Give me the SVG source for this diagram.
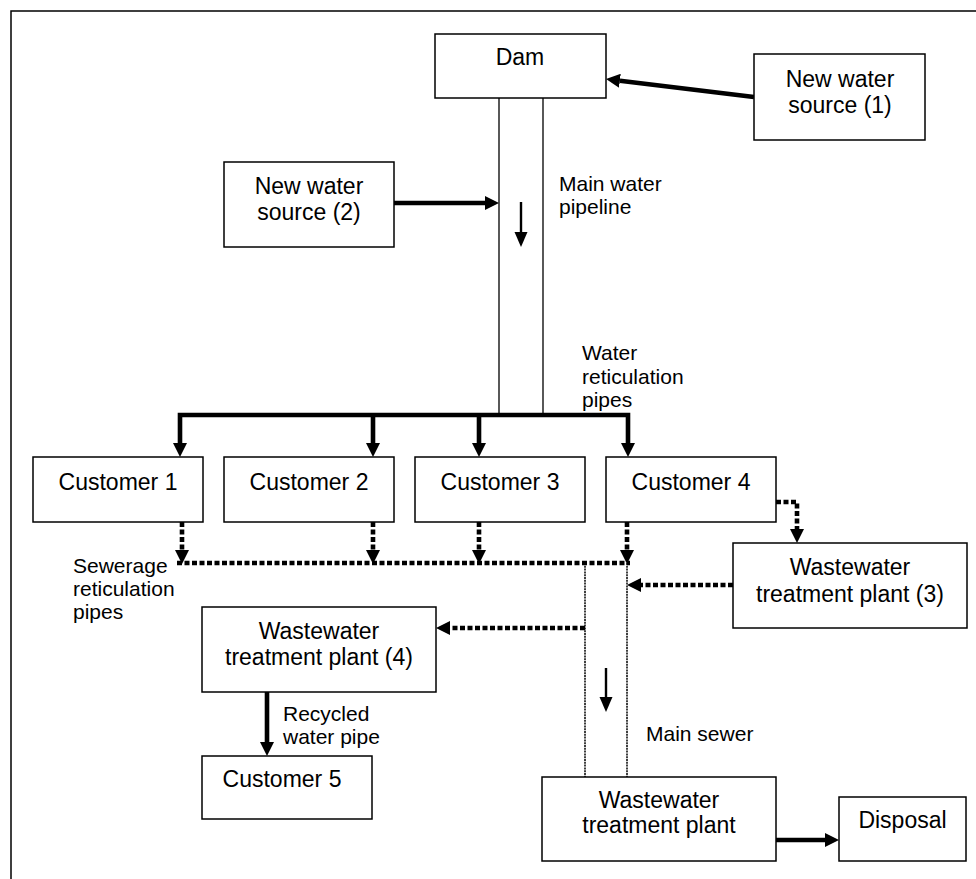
<svg xmlns="http://www.w3.org/2000/svg" width="976" height="879" viewBox="0 0 976 879">
<style>
.box{fill:#fff;stroke:#000;stroke-width:1.5}
.nt{font-family:"Liberation Sans",Arial,sans-serif;font-size:23px;fill:#000;text-anchor:middle}
.lb{font-family:"Liberation Sans",Arial,sans-serif;font-size:21px;fill:#000}
.pipe{fill:none;stroke:#000;stroke-width:1.3}
.thick{fill:none;stroke:#000;stroke-width:4.6;stroke-linejoin:miter}
.dot{fill:none;stroke:#000;stroke-width:4.6;stroke-dasharray:5 2.5}
.fine{fill:none;stroke:#000;stroke-width:1.5;stroke-dasharray:2 0.8}
.small{fill:none;stroke:#000;stroke-width:2.4}
</style>
<defs>
<marker id="ah" viewBox="0 -7 14 14" refX="0" refY="0" markerWidth="14" markerHeight="14" markerUnits="userSpaceOnUse" orient="auto-start-reverse">
<path d="M0,-7 L14,0 L0,7 Z" fill="#000"/>
</marker>
<marker id="ahs" viewBox="0 -7 15 14" refX="0" refY="0" markerWidth="15" markerHeight="14" markerUnits="userSpaceOnUse" orient="auto">
<path d="M0,-6.5 L15,0 L0,6.5 Z" fill="#000"/>
</marker>
</defs>
<rect width="976" height="879" fill="#fff"/>
<g id="frame" fill="none" stroke="#000" stroke-width="1.5">
<path d="M11,879 V11 H976"/>
</g>
<g id="connectors">
<path class="thick" d="M754,97 L619.9,80.7" marker-end="url(#ah)"/>
<path class="thick" d="M394,203 H485" marker-end="url(#ah)"/>
<path class="pipe" d="M499,98 V413 M543,98 V413"/>
<path class="small" d="M521,202 V232" marker-end="url(#ahs)"/>
<path class="thick" d="M180,443 V415 H628 V443" marker-start="url(#ah)" marker-end="url(#ah)"/>
<path class="thick" d="M373,415 V443" marker-end="url(#ah)"/>
<path class="thick" d="M479,415 V443" marker-end="url(#ah)"/>
<path class="dot" d="M182,522 V550" marker-end="url(#ah)"/>
<path class="dot" d="M373,522 V550" marker-end="url(#ah)"/>
<path class="dot" d="M479,522 V550" marker-end="url(#ah)"/>
<path class="dot" d="M627,522 V550" marker-end="url(#ah)"/>
<path class="dot" d="M177,563 H630"/>
<path class="dot" d="M776,502 H797 V529" marker-end="url(#ah)"/>
<path class="fine" d="M585,563 V777 M627,563 V777"/>
<path class="dot" d="M733,585 H641" marker-end="url(#ah)"/>
<path class="dot" d="M585,628 H450" marker-end="url(#ah)"/>
<path class="small" d="M606,668 V697" marker-end="url(#ahs)"/>
<path class="thick" d="M267,692 V742" marker-end="url(#ah)"/>
<path class="thick" d="M776,840 H825" marker-end="url(#ah)"/>
</g>
<g id="dam"><rect class="box" x="435" y="34" width="171" height="64"/><text class="nt" x="520" y="65">Dam</text></g>
<g id="nws1"><rect class="box" x="754" y="54" width="171" height="86"/><text class="nt" x="840" y="87">New water</text><text class="nt" x="840" y="113">source (1)</text></g>
<g id="nws2"><rect class="box" x="224" y="162" width="170" height="85"/><text class="nt" x="309" y="194">New water</text><text class="nt" x="309" y="220">source (2)</text></g>
<g id="c1"><rect class="box" x="33" y="457" width="170" height="65"/><text class="nt" x="118" y="490">Customer 1</text></g>
<g id="c2"><rect class="box" x="224" y="457" width="170" height="65"/><text class="nt" x="309" y="490">Customer 2</text></g>
<g id="c3"><rect class="box" x="415" y="457" width="170" height="65"/><text class="nt" x="500" y="490">Customer 3</text></g>
<g id="c4"><rect class="box" x="606" y="457" width="170" height="65"/><text class="nt" x="691" y="490">Customer 4</text></g>
<g id="wwtp3"><rect class="box" x="733" y="543" width="234" height="85"/><text class="nt" x="850" y="575">Wastewater</text><text class="nt" x="850" y="602">treatment plant (3)</text></g>
<g id="wwtp4"><rect class="box" x="202" y="607" width="234" height="85"/><text class="nt" x="319" y="639">Wastewater</text><text class="nt" x="319" y="665">treatment plant (4)</text></g>
<g id="c5"><rect class="box" x="202" y="756" width="170" height="63"/><text class="nt" x="282" y="787">Customer 5</text></g>
<g id="wwtp"><rect class="box" x="542" y="777" width="234" height="84"/><text class="nt" x="659" y="808">Wastewater</text><text class="nt" x="659" y="833">treatment plant</text></g>
<g id="disposal"><rect class="box" x="839" y="797" width="127" height="64"/><text class="nt" x="902.5" y="828">Disposal</text></g>
<g id="labels">
<text class="lb" x="559" y="191">Main water</text>
<text class="lb" x="559" y="214">pipeline</text>
<text class="lb" x="582" y="360">Water</text>
<text class="lb" x="582" y="384">reticulation</text>
<text class="lb" x="582" y="407">pipes</text>
<text class="lb" x="73" y="573">Sewerage</text>
<text class="lb" x="73" y="596">reticulation</text>
<text class="lb" x="73" y="619">pipes</text>
<text class="lb" x="283" y="721">Recycled</text>
<text class="lb" x="283" y="744">water pipe</text>
<text class="lb" x="646" y="741">Main sewer</text>
</g>
</svg>
